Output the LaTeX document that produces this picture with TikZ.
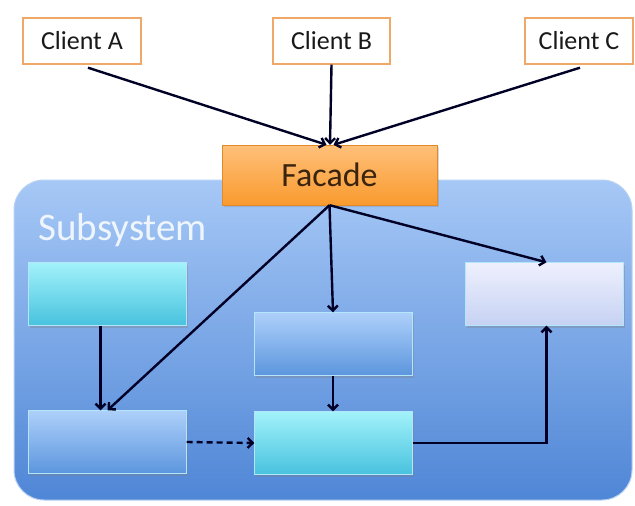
\documentclass[tikz,border=0pt]{standalone}
\usepackage{fontspec}
\setmainfont{Carlito}
\usetikzlibrary{arrows.meta,shadows}
\definecolor{clientedge}{HTML}{F0A868}
\definecolor{facadetop}{HTML}{FFC07A}
\definecolor{facadebot}{HTML}{F99A2E}
\definecolor{facadetext}{HTML}{3A2410}
\definecolor{systop}{HTML}{A6C8F6}
\definecolor{sysbot}{HTML}{4F86D6}
\definecolor{sysedge}{HTML}{B8D2F4}
\definecolor{cyantop}{HTML}{A2F2FA}
\definecolor{cyanbot}{HTML}{48C2DE}
\definecolor{bluetop}{HTML}{AED0FA}
\definecolor{bluebot}{HTML}{5C96DE}
\definecolor{palet}{HTML}{EEF0FD}
\definecolor{paleb}{HTML}{C6D2F3}
\tikzset{
  client/.style={draw=clientedge, line width=1.4pt, fill=white,
    minimum height=46pt, font=\fontsize{26}{28}\selectfont, text=black!90},
  part/.style={minimum width=158pt, minimum height=63pt, draw=white!70!cyan,
    line width=0.4pt, drop shadow={shadow xshift=1.5pt, shadow yshift=-2pt, opacity=0.35}},
  cyanpart/.style={part, top color=cyantop, bottom color=cyanbot},
  bluepart/.style={part, top color=bluetop, bottom color=bluebot},
  palepart/.style={part, top color=palet, bottom color=paleb},
  link/.style={line width=2.4pt, black!85!blue, -{Straight Barb[length=5pt,width=10pt]}},
}
\begin{document}
\begin{tikzpicture}[x=1pt, y=-1pt]
\useasboundingbox (0,0) rectangle (635,506);
\fill[white] (0,0) rectangle (635,506);

% subsystem container
\node[draw=sysedge, line width=1pt, rounded corners=30pt, top color=systop, bottom color=sysbot,
  minimum width=618pt, minimum height=320pt, inner sep=0pt] (sys) at (323,340) {};
\node[anchor=west, text=white, opacity=0.85, font=\fontsize{39}{40}\selectfont] (systitle) at (35,230) {Subsystem};

% clients
\node[client, minimum width=118pt] (ca) at (82,41) {Client A};
\node[client, minimum width=117pt] (cb) at (331.5,41) {Client B};
\node[client, minimum width=108pt] (cc) at (579,41) {Client C};

% facade
\node[minimum width=215pt, minimum height=60pt, top color=facadetop, bottom color=facadebot,
  draw=facadebot!90!black, line width=0.4pt, text=facadetext,
  font=\fontsize{34}{36}\selectfont,
  drop shadow={shadow xshift=1.5pt, shadow yshift=-2pt, opacity=0.3}] (fa) at (329.5,175) {Facade};

% subsystem parts
\node[cyanpart] (p1) at (107.5,294) {};
\node[bluepart] (p2) at (333.5,344) {};
\node[palepart] (p3) at (544.5,294) {};
\node[bluepart] (p4) at (107.5,442) {};
\node[cyanpart] (p5) at (333.5,443) {};

% client calls
\draw[link] ([xshift=6pt,yshift=-3pt]ca.south) -- ([xshift=-3pt]fa.north);
\draw[link] (cb.south) -- ([xshift=0.5pt]fa.north);
\draw[link] ([xshift=1pt,yshift=-3pt]cc.south) -- ([xshift=4pt]fa.north);

% facade delegation
\draw[link] (fa.south) -- (p4.north);
\draw[link] (fa.south) -- ([xshift=-0.5pt]p2.north);
\draw[link] (fa.south) -- ([xshift=2pt]p3.north);

% internal dependencies
\draw[link] ([xshift=-7pt]p1.south) -- ([xshift=-7pt]p4.north);
\draw[link] ([xshift=-0.5pt]p2.south) -- ([xshift=-0.5pt]p5.north);
\draw[link, dashed, dash pattern=on 6pt off 4pt] (p4.east) -- (p5.west);
\draw[link] (p5.east) -| ([xshift=2pt]p3.south);
\end{tikzpicture}
\end{document}
